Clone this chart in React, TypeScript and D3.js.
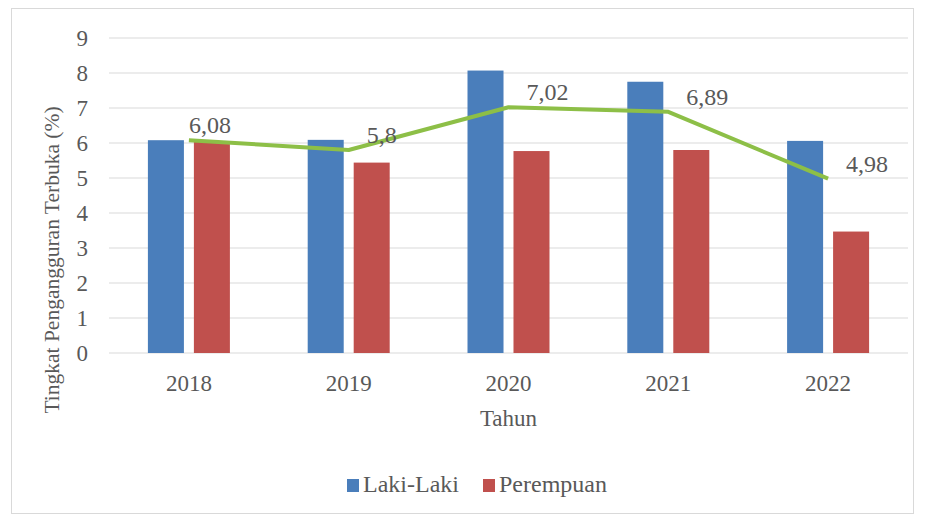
import React, { useEffect, useRef } from 'react'
import * as d3 from 'd3'

const years = ['2018', '2019', '2020', '2021', '2022']
const lakiLaki = [6.08, 6.09, 8.07, 7.75, 6.06]
const perempuan = [6.05, 5.44, 5.77, 5.8, 3.47]
const total = [6.08, 5.8, 7.02, 6.89, 4.98]
const totalLabels = ['6,08', '5,8', '7,02', '6,89', '4,98']
const yTicks = [0, 1, 2, 3, 4, 5, 6, 7, 8, 9]
const seriesNames = ['Laki-Laki', 'Perempuan']

const WIDTH = 925
const HEIGHT = 518
const FONT = '"Liberation Serif", "Times New Roman", serif'
const COLORS = { laki: '#4a7ebb', perempuan: '#c0504d', line: '#8dbf47' }
const TEXT = '#595959'

export default function App() {
  const svgRef = useRef<SVGSVGElement>(null)

  useEffect(() => {
    if (!svgRef.current) return
    const svg = d3.select(svgRef.current)
    svg.selectAll('*').remove()

    // plot area
    const left = 109
    const right = 908
    const top = 38
    const bottom = 353

    svg.append('rect')
      .attr('x', 11.5).attr('y', 8.5)
      .attr('width', 902).attr('height', 505)
      .attr('fill', '#fff')
      .attr('stroke', '#d9d9d9')

    const x0 = d3.scaleBand<string>().domain(years).range([left, right])
    const bw = x0.bandwidth()
    const x1 = d3.scaleBand<string>()
      .domain(['laki', 'perempuan'])
      .range([bw / 2 - 41, bw / 2 + 41])
      .paddingInner(0.217)
    const y = d3.scaleLinear().domain([0, 9]).range([bottom, top])

    // gridlines
    svg.append('g')
      .selectAll('line')
      .data(yTicks)
      .enter().append('line')
      .attr('x1', left).attr('x2', right)
      .attr('y1', d => y(d)).attr('y2', d => y(d))
      .attr('stroke', '#d9d9d9')
      .attr('stroke-width', 1.2)

    // y tick labels
    svg.append('g')
      .selectAll('text')
      .data(yTicks)
      .enter().append('text')
      .attr('x', 88)
      .attr('y', d => y(d))
      .attr('dy', '0.35em')
      .attr('text-anchor', 'end')
      .style('font-family', FONT)
      .style('font-size', '23px')
      .style('fill', TEXT)
      .text(d => d)

    // bars
    const groups = svg.append('g')
      .selectAll('g')
      .data(years)
      .enter().append('g')
      .attr('transform', d => `translate(${x0(d)},0)`)

    groups.append('rect')
      .attr('x', x1('laki')!)
      .attr('width', x1.bandwidth())
      .attr('y', (d, i) => y(lakiLaki[i]))
      .attr('height', (d, i) => bottom - y(lakiLaki[i]))
      .attr('fill', COLORS.laki)

    groups.append('rect')
      .attr('x', x1('perempuan')!)
      .attr('width', x1.bandwidth())
      .attr('y', (d, i) => y(perempuan[i]))
      .attr('height', (d, i) => bottom - y(perempuan[i]))
      .attr('fill', COLORS.perempuan)

    // total line
    const line = d3.line<number>()
      .x((d, i) => x0(years[i])! + bw / 2)
      .y(d => y(d))

    svg.append('path')
      .datum(total)
      .attr('d', line)
      .attr('fill', 'none')
      .attr('stroke', COLORS.line)
      .attr('stroke-width', 4)
      .attr('stroke-linejoin', 'round')

    // first label sits over its point, the rest to the right
    svg.append('g')
      .selectAll('text')
      .data(total)
      .enter().append('text')
      .attr('x', (d, i) => x0(years[i])! + bw / 2 + (i === 0 ? 0 : 18))
      .attr('y', d => y(d) - 7)
      .style('font-family', FONT)
      .style('font-size', '24px')
      .style('fill', TEXT)
      .text((d, i) => totalLabels[i])

    // x tick labels
    svg.append('g')
      .selectAll('text')
      .data(years)
      .enter().append('text')
      .attr('x', d => x0(d)! + bw / 2)
      .attr('y', 391)
      .attr('text-anchor', 'middle')
      .style('font-family', FONT)
      .style('font-size', '23px')
      .style('fill', TEXT)
      .text(d => d)

    // axis titles
    svg.append('text')
      .attr('x', (left + right) / 2)
      .attr('y', 426)
      .attr('text-anchor', 'middle')
      .style('font-family', FONT)
      .style('font-size', '23px')
      .style('fill', TEXT)
      .text('Tahun')

    svg.append('text')
      .attr('transform', 'translate(59,260) rotate(-90)')
      .attr('text-anchor', 'middle')
      .style('font-family', FONT)
      .style('font-size', '21.5px')
      .style('fill', TEXT)
      .text('Tingkat Pengangguran Terbuka (%)')

    // legend
    const legendX = [347, 483]
    const legend = svg.append('g')
      .selectAll('g')
      .data(seriesNames)
      .enter().append('g')
      .attr('transform', (d, i) => `translate(${legendX[i]},479)`)

    legend.append('rect')
      .attr('width', 12).attr('height', 13)
      .attr('fill', (d, i) => (i === 0 ? COLORS.laki : COLORS.perempuan))

    legend.append('text')
      .attr('x', 16)
      .attr('y', 13)
      .style('font-family', FONT)
      .style('font-size', '24px')
      .style('fill', TEXT)
      .text(d => d)
  }, [])

  return (
    <svg
      ref={svgRef}
      width={WIDTH}
      height={HEIGHT}
      style={{ position: 'absolute', left: 0, top: 0, background: '#fff' }}
    />
  )
}
